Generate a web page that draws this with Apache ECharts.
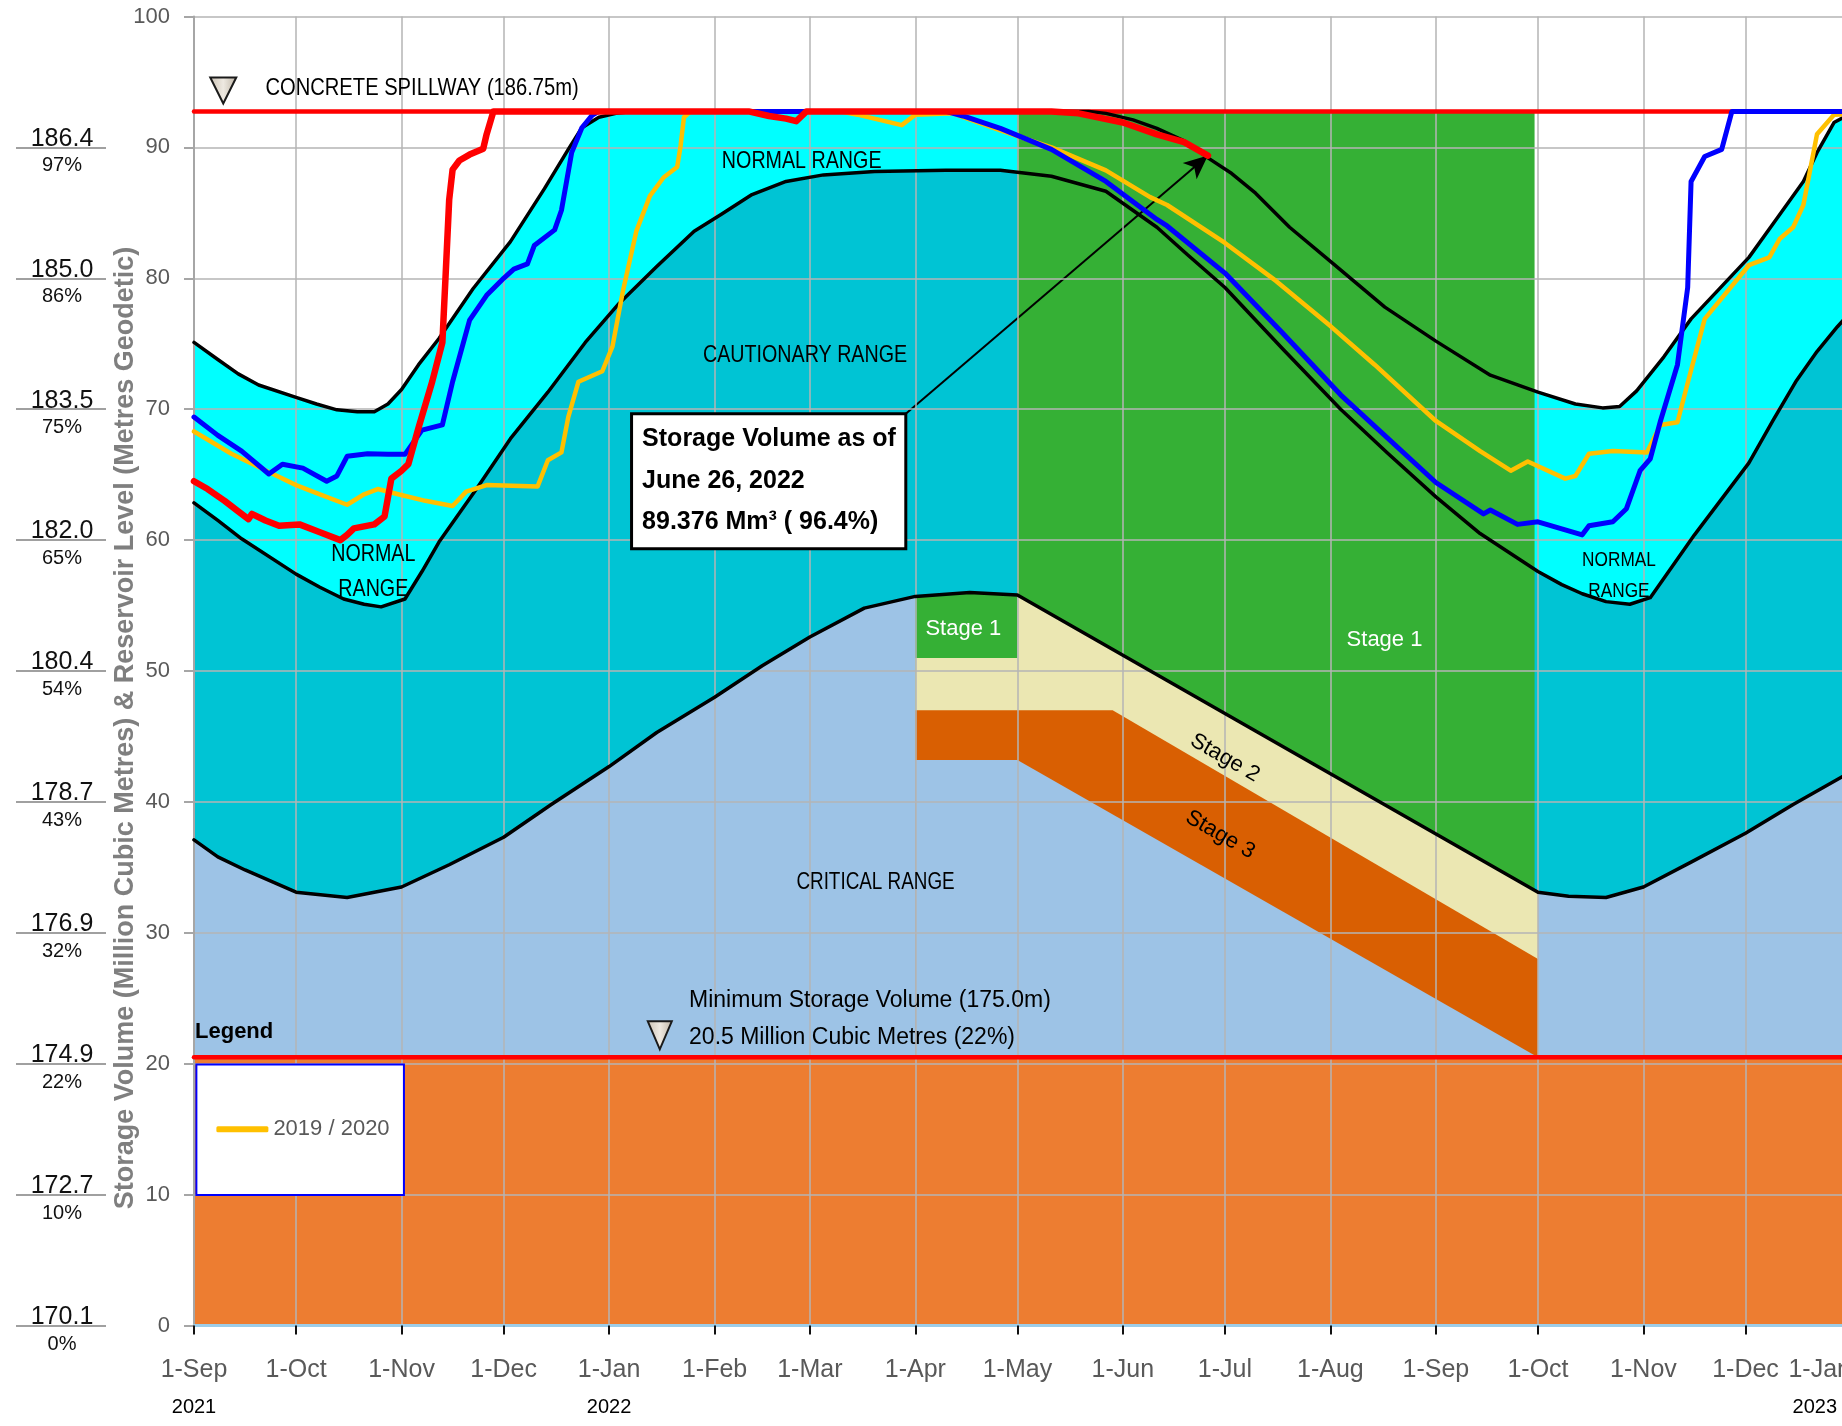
<!DOCTYPE html>
<html><head><meta charset="utf-8">
<script src="https://cdn.jsdelivr.net/npm/echarts@6/dist/echarts.min.js"></script>
<style>html,body{margin:0;padding:0;background:#fff;overflow:hidden;width:1842px;height:1426px}#c{width:1854px;height:1426px}</style>
</head><body><div id="c"></div>
<script>
// ---------------- DATA ----------------
const MONTH_TICKS = ['2021-09-01','2021-10-01','2021-11-01','2021-12-01','2022-01-01','2022-02-01','2022-03-01','2022-04-01','2022-05-01','2022-06-01','2022-07-01','2022-08-01','2022-09-01','2022-10-01','2022-11-01','2022-12-01','2023-01-01'];
const MONTH_LABELS = ['1-Sep','1-Oct','1-Nov','1-Dec','1-Jan','1-Feb','1-Mar','1-Apr','1-May','1-Jun','1-Jul','1-Aug','1-Sep','1-Oct','1-Nov','1-Dec','1-Jan'];
const YEAR_TICKS = ['2021-09-01','2022-01-01','2023-01-01'];
const YEAR_LABELS = ['2021','2022','2023'];
const VOLUME_TICKS = [0,10,20,30,40,50,60,70,80,90];
const ELEVATION_LABELS = ['170.1','172.7','174.9','176.9','178.7','180.4','182.0','183.5','185.0','186.4'];
const PERCENT_LABELS = ['0%','10%','22%','32%','43%','54%','65%','75%','86%','97%'];

const SPILLWAY = 92.75;      // Mm3 at 186.75 m
const MIN_STORAGE = 20.5;    // Mm3 at 175.0 m

const UPPER_NORMAL = [['2021-09-01',75.1],['2021-09-08',73.8],['2021-09-14',72.7],['2021-09-20',71.85],['2021-10-01',70.9],['2021-10-07',70.4],['2021-10-13',69.95],['2021-10-19',69.8],['2021-10-24',69.8],['2021-10-28',70.4],['2021-11-01',71.5],['2021-11-06',73.4],['2021-11-12',75.4],['2021-11-22',79.2],['2021-12-03',82.8],['2021-12-13',86.85],['2021-12-20',89.85],['2021-12-24',91.5],['2021-12-29',92.3],['2022-01-03',92.6],['2022-01-08',92.75],['2022-05-22',92.75],['2022-05-27',92.6],['2022-06-04',92.1],['2022-06-11',91.45],['2022-06-19',90.5],['2022-06-26',89.2],['2022-07-03',88.0],['2022-07-10',86.5],['2022-07-20',83.9],['2022-08-01',81.3],['2022-08-17',77.8],['2022-09-01',75.2],['2022-09-17',72.6],['2022-10-01',71.3],['2022-10-12',70.4],['2022-10-20',70.1],['2022-10-25',70.2],['2022-10-30',71.4],['2022-11-07',74.0],['2022-11-15',76.9],['2022-12-02',81.6],['2022-12-10',84.5],['2022-12-18',87.4],['2022-12-22',89.6],['2022-12-27',91.9],['2023-01-01',92.6],['2023-01-05',92.75]];

const LOWER_NORMAL = [['2021-09-01',62.85],['2021-09-08',61.5],['2021-09-15',60.1],['2021-10-01',57.4],['2021-10-08',56.4],['2021-10-15',55.5],['2021-10-21',55.1],['2021-10-26',54.9],['2021-11-02',55.5],['2021-11-07',57.6],['2021-11-12',59.85],['2021-11-23',63.9],['2021-12-03',67.75],['2021-12-14',71.3],['2021-12-25',75.1],['2022-01-04',78.1],['2022-01-15',80.9],['2022-01-26',83.6],['2022-02-03',84.9],['2022-02-12',86.4],['2022-02-22',87.4],['2022-03-05',87.9],['2022-03-20',88.15],['2022-04-10',88.25],['2022-04-26',88.25],['2022-05-11',87.8],['2022-05-27',86.65],['2022-06-11',83.9],['2022-06-20',81.8],['2022-07-01',79.3],['2022-07-18',74.6],['2022-08-04',70.0],['2022-08-18',66.6],['2022-09-01',63.3],['2022-09-14',60.5],['2022-10-01',57.6],['2022-10-08',56.6],['2022-10-14',55.9],['2022-10-21',55.3],['2022-10-28',55.1],['2022-11-03',55.6],['2022-11-16',60.4],['2022-12-02',65.9],['2022-12-09',69.1],['2022-12-16',72.2],['2022-12-22',74.4],['2022-12-28',76.3],['2023-01-05',78.6]];

const CRITICAL = [['2021-09-01',37.1],['2021-09-08',35.8],['2021-09-16',34.8],['2021-10-01',33.1],['2021-10-16',32.7],['2021-11-01',33.5],['2021-11-15',35.2],['2021-12-01',37.3],['2021-12-15',39.8],['2022-01-01',42.7],['2022-01-15',45.3],['2022-02-01',48.0],['2022-02-15',50.4],['2022-03-01',52.6],['2022-03-17',54.8],['2022-04-01',55.7],['2022-04-17',56.0],['2022-05-01',55.8],['2022-10-01',33.1],['2022-10-10',32.8],['2022-10-21',32.7],['2022-11-01',33.5],['2022-11-15',35.4],['2022-12-01',37.6],['2022-12-15',39.8],['2023-01-01',42.3],['2023-01-05',42.9]];

const STAGE1_BOTTOM = [['2022-04-01',51.0],['2022-05-01',51.0]];
const STAGE2_BOTTOM = [['2022-04-01',47.0],['2022-05-29',47.0],['2022-10-01',28.0]];
const STAGE3_BOTTOM = [['2022-04-01',43.2],['2022-05-01',43.2],['2022-10-01',20.5]];
const STAGE1_PERIOD = ['2022-05-01','2022-09-30'];

const CURRENT_2021_2022 = [['2021-09-01',64.5],['2021-09-05',63.9],['2021-09-10',63.0],['2021-09-14',62.2],['2021-09-17',61.6],['2021-09-18',62.0],['2021-09-22',61.5],['2021-09-26',61.1],['2021-10-02',61.2],['2021-10-08',60.6],['2021-10-14',60.0],['2021-10-16',60.4],['2021-10-18',60.9],['2021-10-24',61.2],['2021-10-27',61.8],['2021-10-29',64.7],['2021-11-01',65.3],['2021-11-03',65.8],['2021-11-06',68.6],['2021-11-10',72.1],['2021-11-13',75.1],['2021-11-14',80.5],['2021-11-15',86.0],['2021-11-16',88.3],['2021-11-18',89.0],['2021-11-21',89.45],['2021-11-25',89.9],['2021-11-26',91.0],['2021-11-28',92.75],['2022-02-11',92.75],['2022-02-17',92.4],['2022-02-22',92.2],['2022-02-25',92.0],['2022-02-28',92.75],['2022-05-11',92.75],['2022-05-19',92.6],['2022-06-01',91.9],['2022-06-11',91.0],['2022-06-19',90.4],['2022-06-26',89.376]];

const BLUE_YEAR = [['2021-09-01',69.4],['2021-09-08',68.0],['2021-09-15',66.8],['2021-09-23',65.05],['2021-09-27',65.8],['2021-10-03',65.5],['2021-10-10',64.5],['2021-10-13',64.9],['2021-10-16',66.4],['2021-10-22',66.6],['2021-10-28',66.55],['2021-11-02',66.55],['2021-11-07',68.4],['2021-11-13',68.8],['2021-11-16',72.1],['2021-11-21',76.8],['2021-11-26',78.7],['2021-12-01',80.0],['2021-12-04',80.7],['2021-12-08',81.1],['2021-12-10',82.5],['2021-12-16',83.7],['2021-12-18',85.2],['2021-12-21',89.6],['2021-12-24',91.5],['2021-12-27',92.45],['2021-12-29',92.75],['2022-04-10',92.75],['2022-04-15',92.4],['2022-04-26',91.45],['2022-05-11',89.85],['2022-05-27',87.4],['2022-06-11',84.5],['2022-06-14',84.0],['2022-07-01',80.4],['2022-07-18',75.8],['2022-08-04',71.1],['2022-09-01',64.4],['2022-09-15',62.0],['2022-09-17',62.3],['2022-09-25',61.2],['2022-10-01',61.4],['2022-10-14',60.4],['2022-10-16',61.1],['2022-10-23',61.4],['2022-10-27',62.4],['2022-10-31',65.3],['2022-11-03',66.2],['2022-11-06',69.1],['2022-11-11',73.4],['2022-11-14',79.3],['2022-11-15',87.4],['2022-11-19',89.3],['2022-11-24',89.85],['2022-11-27',92.75],['2023-01-05',92.75]];

const YEAR_2019_2020 = [['2021-09-01',68.3],['2021-09-12',66.6],['2021-09-23',65.2],['2021-10-01',64.2],['2021-10-08',63.5],['2021-10-16',62.7],['2021-10-21',63.5],['2021-10-25',63.9],['2021-10-31',63.5],['2021-11-08',63.0],['2021-11-16',62.6],['2021-11-20',63.7],['2021-11-26',64.2],['2021-12-11',64.1],['2021-12-14',66.1],['2021-12-18',66.7],['2021-12-20',69.4],['2021-12-23',72.1],['2021-12-30',72.9],['2022-01-02',74.8],['2022-01-05',78.95],['2022-01-09',83.6],['2022-01-13',86.3],['2022-01-17',87.7],['2022-01-21',88.5],['2022-01-22',90.1],['2022-01-23',92.3],['2022-01-25',92.75],['2022-03-10',92.75],['2022-03-15',92.5],['2022-03-28',91.7],['2022-04-01',92.5],['2022-04-12',92.6],['2022-04-26',91.3],['2022-05-11',90.0],['2022-05-27',88.25],['2022-06-09',86.2],['2022-06-14',85.6],['2022-07-01',82.7],['2022-07-16',79.8],['2022-08-01',76.35],['2022-08-14',73.4],['2022-09-01',69.1],['2022-09-14',66.8],['2022-09-23',65.3],['2022-09-28',66.0],['2022-10-09',64.7],['2022-10-12',64.9],['2022-10-16',66.6],['2022-10-23',66.8],['2022-11-02',66.7],['2022-11-06',68.8],['2022-11-11',69.0],['2022-11-14',72.0],['2022-11-19',76.9],['2022-12-02',81.0],['2022-12-08',81.6],['2022-12-11',83.0],['2022-12-15',83.9],['2022-12-18',85.6],['2022-12-22',91.0],['2022-12-27',92.5],['2023-01-05',92.6]];

const CURRENT_POINT = ['2022-06-26', 89.376];

// ---------------- HELPERS ----------------
const BASE = Date.UTC(2021, 8, 1);
function day(s){const p=s.split('-').map(Number);return Math.round((Date.UTC(p[0],p[1]-1,p[2])-BASE)/86400000);}
function toXY(arr){return arr.map(d=>[day(d[0]), d[1]]);}
const SANS = "'Liberation Sans', Arial, sans-serif";

const monthVals = MONTH_TICKS.map(day);
const yearVals = YEAR_TICKS.map(day);
const X_MAX = day('2023-01-01');
const apr1 = day('2022-04-01'), may1 = day('2022-05-01'), oct1 = day('2022-10-01');

const crit = toXY(CRITICAL);
const stage1Top = crit.filter(p => p[0] >= apr1 && p[0] <= may1);
const stage2Top = toXY(STAGE1_BOTTOM).concat(crit.filter(p => p[0] >= may1 && p[0] <= oct1));
const greenBlock = STAGE1_PERIOD.map(d => [day(d), SPILLWAY]);
const spillLine = [[0, SPILLWAY], [X_MAX + 10, SPILLWAY]];
const minLine = [[0, MIN_STORAGE], [X_MAX + 10, MIN_STORAGE]];

function fill(name, data, color, z){
  return {type:'line', name, data, z, symbol:'none', silent:true, animation:false,
    lineStyle:{width:0, opacity:0}, areaStyle:{color, opacity:1, origin:'start'}};
}
function line(name, data, color, width, z, extra){
  return Object.assign({type:'line', name, data, z, symbol:'none', silent:true, animation:false,
    color, itemStyle:{color}, lineStyle:{color, width, join:'round', cap:'round'}}, extra||{});
}

const chart = echarts.init(document.getElementById('c'), null, {renderer:'canvas'});

const GRID_C = '#B5B5B5';
chart.setOption({
  animation:false,
  backgroundColor:'#ffffff',
  textStyle:{fontFamily:SANS},
  grid:{left:194, top:16.5, right:0, bottom:100.5, containLabel:false},
  xAxis:{
    type:'value', min:0, max:X_MAX, z:10,
    axisLine:{show:true, onZero:false, lineStyle:{color:'#9DCDE8', width:3}},
    axisTick:{show:true, customValues:monthVals, length:9, lineStyle:{color:'#111', width:2}},
    axisLabel:{customValues:monthVals, margin:28, alignMaxLabel:'right',
      formatter:function(v){
        const r = Math.round(v);
        const i = monthVals.indexOf(r);
        const j = yearVals.indexOf(r);
        const m = '{m|' + (i>=0 ? MONTH_LABELS[i] : '') + '}';
        if (j < 0) return m;
        return m + '\n{' + (r === X_MAX ? 'ye' : 'y') + '|' + YEAR_LABELS[j] + '}';
      },
      rich:{
        m:{fontFamily:SANS, fontSize:25, color:'#595959', lineHeight:34},
        y:{fontFamily:SANS, fontSize:20, color:'#000', lineHeight:40},
        ye:{fontFamily:SANS, fontSize:20, color:'#000', lineHeight:40, padding:[0,14,0,0]}
      }},
    splitLine:{show:true, lineStyle:{color:GRID_C, width:1.5}}
  },
  yAxis:[{
    type:'value', min:0, max:100, interval:10, z:10, position:'left',
    axisLine:{show:true, lineStyle:{color:'#A6A6A6', width:2}},
    axisTick:{show:true, length:10, lineStyle:{color:'#A6A6A6', width:2}},
    axisLabel:{color:'#595959', fontFamily:SANS, fontSize:22, margin:24},
    splitLine:{show:true, lineStyle:{color:GRID_C, width:1.5}}
  },{
    type:'value', min:0, max:100, interval:10, z:10, position:'left', offset:88,
    axisLine:{show:false}, splitLine:{show:false},
    axisTick:{show:true, customValues:VOLUME_TICKS, length:90, lineStyle:{color:'#A0A0A0', width:2}},
    axisLabel:{customValues:VOLUME_TICKS, margin:44, align:'center', padding:[10,0,0,0],
      formatter:function(v){
        const i = VOLUME_TICKS.indexOf(Math.round(v));
        if(i<0) return '';
        return '{e|' + ELEVATION_LABELS[i] + '}\n{p|' + PERCENT_LABELS[i] + '}';
      },
      rich:{
        e:{fontFamily:SANS, fontSize:25, color:'#111', lineHeight:27, align:'center'},
        p:{fontFamily:SANS, fontSize:20, color:'#111', lineHeight:27, align:'center'}
      }}
  }],
  legend:{show:false},
  series:[
    fill('normal range', toXY(UPPER_NORMAL), '#00FFFF', 1),
    fill('cautionary range', toXY(LOWER_NORMAL), '#00C4D4', 2),
    fill('stage 1 area', greenBlock, '#35B035', 3),
    fill('critical range', crit, '#9DC3E6', 4),
    fill('stage 1 box', stage1Top, '#35B035', 5),
    fill('stage 2', stage2Top, '#EBE7B2', 6),
    fill('stage 3', toXY(STAGE2_BOTTOM), '#D95F02', 7),
    fill('critical below', toXY(STAGE3_BOTTOM), '#9DC3E6', 8),
    fill('below minimum', minLine, '#ED7D31', 9),
    line('spillway', spillLine, '#FF0000', 4.5, 11),
    line('minimum storage', minLine, '#FF0000', 4.5, 11),
    line('upper normal', toXY(UPPER_NORMAL), '#000000', 3.5, 12),
    line('lower normal', toXY(LOWER_NORMAL), '#000000', 3.5, 12),
    line('critical', crit, '#000000', 3.5, 12),
    line('2019 / 2020', toXY(YEAR_2019_2020), '#FFC000', 4.5, 13),
    line('blue year', toXY(BLUE_YEAR), '#0000FF', 5, 14),
    line('2021 / 2022', toXY(CURRENT_2021_2022), '#FF0000', 6.5, 15, {
      markLine:{silent:true, animation:false, symbol:['none','arrow'], symbolSize:[16,24],
        label:{show:false}, lineStyle:{color:'#000', width:2, type:'solid'},
        data:[[{coord:[209.2, 69.66]}, {coord:[day(CURRENT_POINT[0]), CURRENT_POINT[1]]}]]}
    })
  ]
});

// ---------------- ANNOTATIONS (positioned through the axes) ----------------
const P = (d, v) => chart.convertToPixel({xAxisIndex:0, yAxisIndex:0}, [d, v]);
const G = [];
function txt(d, v, text, font, opts){
  const p = P(d, v);
  G.push(Object.assign({type:'text', x:p[0], y:p[1], z:100, silent:true,
    style:Object.assign({text, font, fill:'#000', align:'center', verticalAlign:'middle'}, (opts&&opts.style)||{})},
    (opts&&opts.el)||{}));
}
function tri(d, v, w, h){
  const p = P(d, v);
  G.push({type:'polygon', z:100, silent:true,
    shape:{points:[[p[0]-w/2,p[1]-h/2],[p[0]+w/2,p[1]-h/2],[p[0],p[1]+h/2]]},
    style:{fill:new echarts.graphic.LinearGradient(0,0,1,0,[{offset:0,color:'#C9C0B2'},{offset:0.5,color:'#EEE9E1'},{offset:1,color:'#BDB3A4'}]),
      stroke:'#1a1a1a', lineWidth:2}});
}
const NARROWED = {el:{scaleX:0.82}};
// spillway
tri(8.6, 94.35, 26, 26);
txt(21.0, 94.5, 'CONCRETE SPILLWAY (186.75m)', '24px ' + SANS, {style:{align:'left'}, el:{scaleX:0.84}});
// range labels
txt(178.6, 88.96, 'NORMAL RANGE', '24px ' + SANS, NARROWED);
txt(179.6, 74.15, 'CAUTIONARY RANGE', '24px ' + SANS, NARROWED);
txt(52.7, 58.9, 'NORMAL', '24px ' + SANS, NARROWED);
txt(52.7, 56.2, 'RANGE', '24px ' + SANS, NARROWED);
txt(418.8, 58.5, 'NORMAL', '21px ' + SANS, NARROWED);
txt(418.8, 56.1, 'RANGE', '21px ' + SANS, NARROWED);
txt(200.3, 33.8, 'CRITICAL RANGE', '23px ' + SANS, NARROWED);
// stages
txt(226.1, 53.2, 'Stage 1', '22px ' + SANS, {style:{fill:'#fff'}});
txt(349.9, 52.4, 'Stage 1', '22px ' + SANS, {style:{fill:'#fff'}});
txt(303.0, 43.36, 'Stage 2', '22px ' + SANS, {el:{rotation:-Math.PI/6}});
txt(301.6, 37.5, 'Stage 3', '22px ' + SANS, {el:{rotation:-Math.PI/6}});
// minimum storage
tri(136.9, 22.17, 24, 28);
txt(145.5, 24.78, 'Minimum Storage Volume (175.0m)', '23px ' + SANS, {style:{align:'left'}});
txt(145.5, 21.99, '20.5 Million Cubic Metres (22%)', '23px ' + SANS, {style:{align:'left'}});
// legend title + box
txt(0.3, 22.44, 'Legend', 'bold 22px ' + SANS, {style:{align:'left'}});
const lb1 = P(0.7, 19.93), lb2 = P(61.7, 9.96);
G.push({type:'rect', z:99, silent:true, shape:{x:lb1[0], y:lb1[1], width:lb2[0]-lb1[0], height:lb2[1]-lb1[1]},
  style:{fill:'#fff', stroke:'#0000FF', lineWidth:2}});
// annotation box
const ab1 = P(128.6, 69.66), ab2 = P(209.2, 59.34);
G.push({type:'rect', z:99, silent:true, shape:{x:ab1[0], y:ab1[1], width:ab2[0]-ab1[0], height:ab2[1]-ab1[1]},
  style:{fill:'#fff', stroke:'#000', lineWidth:3}});
txt(131.7, 67.68, 'Storage Volume as of', 'bold 25px ' + SANS, {style:{align:'left'}});
txt(131.7, 64.54, 'June 26, 2022', 'bold 25px ' + SANS, {style:{align:'left'}});
txt(131.7, 61.40, '89.376 Mm\u00B3 ( 96.4%)', 'bold 25px ' + SANS, {style:{align:'left'}});
// axis title
G.push({type:'text', x:126, y:728, rotation:Math.PI/2, z:100, silent:true,
  style:{text:'Storage Volume (Million Cubic Metres) & Reservoir Level (Metres Geodetic)',
    font:'bold 27px ' + SANS, fill:'#7F7F7F', align:'center', verticalAlign:'middle'}});

const legendCenter = P(0, 15);
chart.setOption({
  graphic:G,
  legend:{show:true, data:['2019 / 2020'], selectedMode:false, z:101,
    left:lb1[0] + 20, top:legendCenter[1] - 12, padding:0,
    icon:'roundRect', itemWidth:52, itemHeight:6, itemGap:0,
    textStyle:{fontFamily:SANS, fontSize:22, color:'#595959', lineHeight:24}}
});
</script></body></html>
